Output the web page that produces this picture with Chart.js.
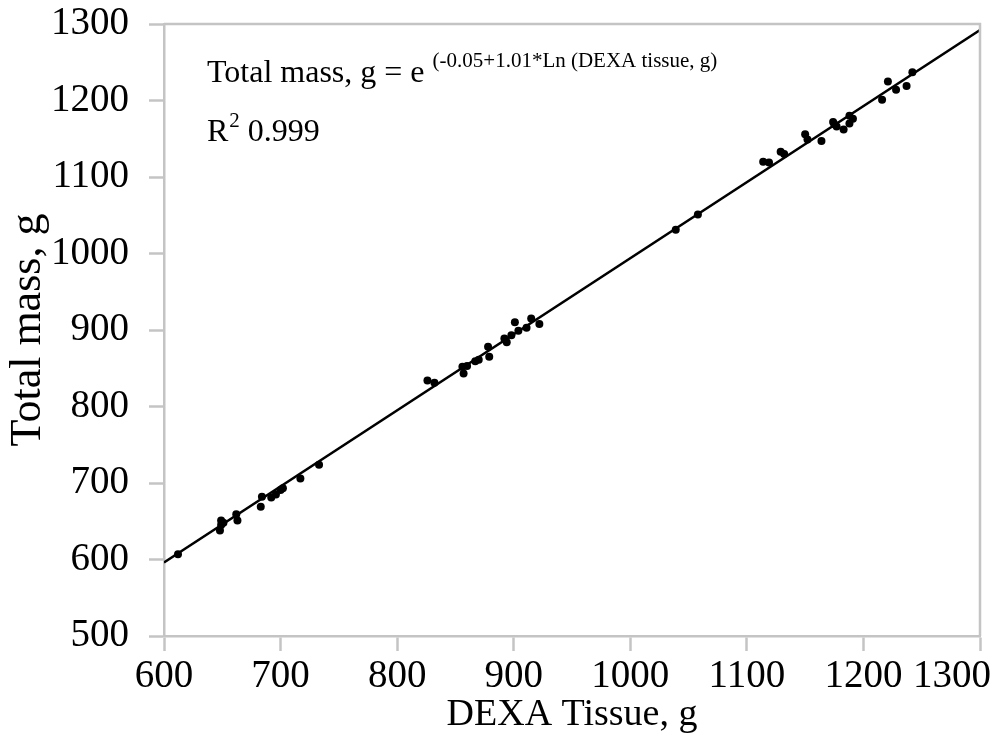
<!DOCTYPE html>
<html lang="en">
<head>
    <meta charset="UTF-8">
    <script src="https://cdn.jsdelivr.net/npm/chart.js"></script>
    <title>Total mass vs DEXA tissue</title>
    <style>
        body { margin: 0; background: #fff; }
        #wrap { width: 995px; height: 740px; }
    </style>
</head>
<body>
    <div id="wrap"><canvas id="massChart" width="995" height="740"></canvas></div>

    <script>
        // DEXA tissue (g) vs total mass (g)
        const dexaTissue = [612, 649, 649, 648, 651, 662, 663, 684, 683, 692, 696, 700, 702, 717, 733,
            826, 832, 856, 857, 860, 867, 870, 878, 879, 892, 894, 898, 901, 904, 911, 915, 922,
            1039, 1058,
            1114, 1119, 1129, 1132, 1150, 1152, 1164, 1174, 1177, 1175, 1183, 1188, 1191, 1188,
            1216, 1221, 1228, 1237, 1242];
        const totalMass = [607, 651, 645, 638, 648, 659, 651, 682, 669, 681, 685, 691, 693, 706, 724,
            834, 831, 852, 843, 853, 859, 861, 878, 865, 889, 884, 893, 910, 899, 903, 915, 908,
            1031, 1051,
            1120, 1119, 1133, 1130, 1156, 1149, 1147, 1172, 1166, 1169, 1162, 1180, 1176, 1170,
            1201, 1225, 1214, 1219, 1237];

        // fitted line, ends at the plot edges
        const fitX = [600, 1300];
        const fitY = [596, 1292];

        const xTicks = [600, 700, 800, 900, 1000, 1100, 1200, 1300];
        const yTicks = [500, 600, 700, 800, 900, 1000, 1100, 1200, 1300];

        const serif = '"Liberation Serif", "Times New Roman", serif';
        const axisGray = '#c4c4c4';

        // last x label is pushed inside the canvas, like in the original
        const lastLabelPlugin = {
            id: 'lastLabel',
            beforeDraw(chart) {
                const items = chart.scales.x.getLabelItems(chart.chartArea);
                const last = items[items.length - 1];
                if (last && last.options) {
                    last.options.textAlign = 'right';
                    last.options.translation[0] = chart.width - 4;
                }
            }
        };

        // gray box round the plot + the equation text
        const framePlugin = {
            id: 'frame',
            afterDraw(chart) {
                const { ctx, chartArea: a } = chart;
                ctx.save();
                ctx.strokeStyle = axisGray;
                ctx.lineWidth = 2.5;
                ctx.beginPath();
                ctx.moveTo(a.left, a.top);
                ctx.lineTo(a.right, a.top);
                ctx.lineTo(a.right, a.bottom);
                ctx.stroke();

                ctx.fillStyle = '#000';
                ctx.textBaseline = 'alphabetic';
                ctx.textAlign = 'left';
                let x = a.left + 43;
                ctx.font = '32px ' + serif;
                const main = 'Total mass, g = e ';
                ctx.fillText(main, x, 82);
                x += ctx.measureText(main).width;
                ctx.font = '21px ' + serif;
                ctx.fillText('(-0.05+1.01*Ln (DEXA tissue, g)', x, 67);

                x = a.left + 43;
                ctx.font = '32px ' + serif;
                ctx.fillText('R', x, 141);
                x += ctx.measureText('R').width + 1;
                ctx.font = '21px ' + serif;
                ctx.fillText('2', x, 127);
                x += ctx.measureText('2').width;
                ctx.font = '32px ' + serif;
                ctx.fillText(' 0.999', x, 141);
                ctx.restore();
            }
        };

        const points = dexaTissue.map((v, i) => ({ x: v, y: totalMass[i] }));
        const fitLine = fitX.map((v, i) => ({ x: v, y: fitY[i] }));

        new Chart(document.getElementById('massChart'), {
            type: 'scatter',
            data: {
                datasets: [{
                    label: 'Total mass',
                    data: points,
                    backgroundColor: '#000',
                    borderColor: '#000',
                    pointRadius: 4,
                    pointBorderWidth: 0
                }, {
                    label: 'Fit',
                    type: 'line',
                    data: fitLine,
                    borderColor: '#000',
                    borderWidth: 2.5,
                    pointRadius: 0,
                    fill: false
                }]
            },
            options: {
                responsive: false,
                animation: false,
                layout: { padding: { left: 0, right: 15, top: 24, bottom: 0 } },
                plugins: {
                    legend: { display: false },
                    tooltip: { enabled: false }
                },
                scales: {
                    x: {
                        type: 'linear',
                        min: 600,
                        max: 1300,
                        afterBuildTicks: s => { s.ticks = xTicks.map(v => ({ value: v })); },
                        afterFit: s => { s.height = 104; s.paddingLeft = 0; s.paddingRight = 0; },
                        grid: { drawOnChartArea: false, tickLength: 15, tickColor: axisGray, tickWidth: 2.5 },
                        border: { color: axisGray, width: 2.5 },
                        ticks: { color: '#000', font: { family: serif, size: 39 }, padding: 2, maxRotation: 0, callback: v => String(v) },
                        title: { display: true, text: 'DEXA Tissue, g', color: '#000', font: { family: serif, size: 38 }, padding: { top: 0, bottom: 2 } }
                    },
                    y: {
                        type: 'linear',
                        min: 500,
                        max: 1300,
                        afterBuildTicks: s => { s.ticks = yTicks.map(v => ({ value: v })); },
                        afterFit: s => { s.width = 164; s.paddingTop = 0; s.paddingBottom = 0; },
                        grid: { drawOnChartArea: false, tickLength: 15, tickColor: axisGray, tickWidth: 2.5 },
                        border: { color: axisGray, width: 2.5 },
                        ticks: { color: '#000', font: { family: serif, size: 39 }, padding: 20, callback: v => String(v) },
                        title: { display: true, text: 'Total mass, g', color: '#000', font: { family: serif, size: 44 }, padding: { top: 2, bottom: 0 } }
                    }
                }
            },
            plugins: [lastLabelPlugin, framePlugin]
        });
    </script>
</body>
</html>
